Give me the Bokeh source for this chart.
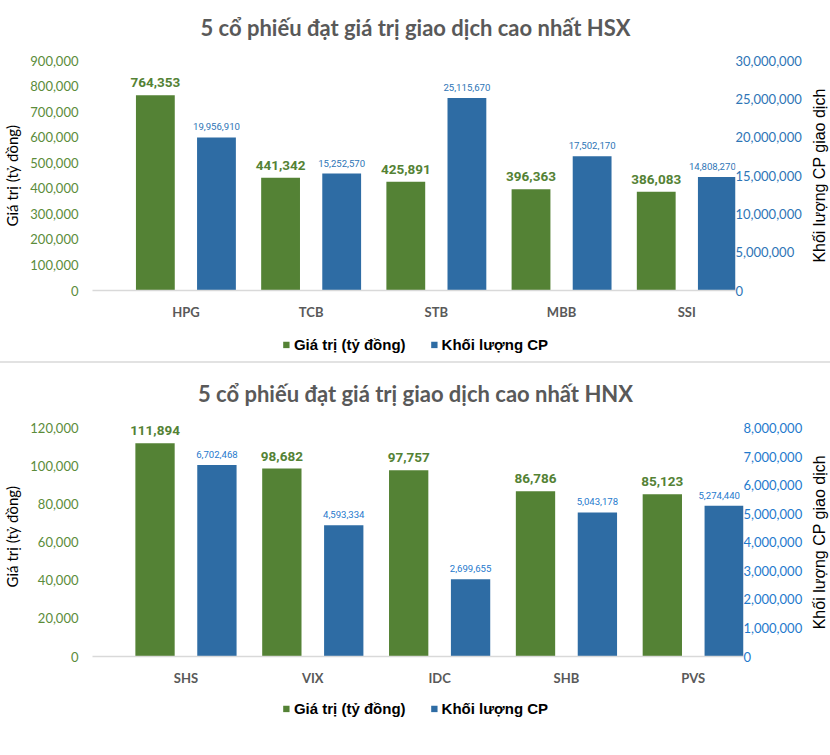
import math
from bokeh.plotting import figure
from bokeh.models import (Range1d, LinearAxis, FixedTicker, NumeralTickFormatter,
                          Legend, LegendItem, Div, Label)
from bokeh.layouts import column, row
from bokeh.embed import file_html
from bokeh.resources import INLINE
from bokeh.core.properties import value

# ---------------- data ----------------
hsx_title = "5 cổ phiếu đạt giá trị giao dịch cao nhất HSX"
hsx_stocks = ["HPG", "TCB", "STB", "MBB", "SSI"]
hsx_value = [764353, 441342, 425891, 396363, 386083]
hsx_volume = [19956910, 15252570, 25115670, 17502170, 14808270]
hsx_value_ticks = [0, 100000, 200000, 300000, 400000, 500000, 600000, 700000, 800000, 900000]
hsx_volume_ticks = [0, 5000000, 10000000, 15000000, 20000000, 25000000, 30000000]

hnx_title = "5 cổ phiếu đạt giá trị giao dịch cao nhất HNX"
hnx_stocks = ["SHS", "VIX", "IDC", "SHB", "PVS"]
hnx_value = [111894, 98682, 97757, 86786, 85123]
hnx_volume = [6702468, 4593334, 2699655, 5043178, 5274440]
hnx_value_ticks = [0, 20000, 40000, 60000, 80000, 100000, 120000]
hnx_volume_ticks = [0, 1000000, 2000000, 3000000, 4000000, 5000000, 6000000, 7000000, 8000000]

series_names = ["Giá trị (tỷ đồng)", "Khối lượng CP"]
left_axis_title = "Giá trị (tỷ đồng)"
right_axis_title = "Khối lượng CP giao dịch"

GREEN = "#548235"
GREEN_TXT = "#5B8C3A"
BLUE = "#2E6CA4"

PAGE_W = 830
RT_W = 22
CW = PAGE_W - RT_W


def bare_fig(width, height, **kw):
    f = figure(width=width, height=height, output_backend="svg", toolbar_location=None,
               x_range=Range1d(0, 1), y_range=Range1d(0, 1),
               x_axis_type=None, y_axis_type=None, **kw)
    f.outline_line_color = None
    return f


def make_title(text, height, ypos):
    tf = bare_fig(PAGE_W, height, min_border=0)
    tf.add_layout(Label(x=0.5, y=ypos, text=text, text_align="center",
                        text_baseline="middle", text_font="Lato",
                        text_font_style="bold", text_font_size="22px",
                        text_color="#595959"))
    return tf


def make_chart(stocks, vals, vols, vticks, volticks, head, height, top_b, bottom_b,
               right_b, xr, blue_txt):
    p = figure(width=CW, height=height, output_backend="svg", toolbar_location=None,
               x_range=Range1d(*xr), y_range=Range1d(0, vticks[-1] * head),
               min_border_left=88, min_border_right=right_b,
               min_border_top=top_b, min_border_bottom=bottom_b)
    p.extra_y_ranges = {"vol": Range1d(0, volticks[-1] * head)}
    p.xgrid.visible = False
    p.ygrid.visible = False
    p.outline_line_color = None
    p.background_fill_color = "white"
    p.border_fill_color = "white"

    idx = list(range(len(stocks)))
    xg = [i - 0.244 for i in idx]
    xb = [i + 0.244 for i in idx]
    # the last volume label is nudged left so it stays clear of the right axis
    blue_shift = [0] * (len(idx) - 1) + [-5]

    p.vbar(x=xg, top=vals, width=0.31, fill_color=GREEN, line_color=None)
    p.vbar(x=xb, top=vols, width=0.31, fill_color=BLUE, line_color=None,
           y_range_name="vol")

    p.text(x=xg, y=vals, text=[f"{v:,}" for v in vals], text_align="center",
           text_baseline="bottom", y_offset=-8,
           text_font=value("Roboto"), text_font_style="bold",
           text_font_size="13.5px", text_color=GREEN)
    p.text(x=xb, y=vols, text=[f"{v:,}" for v in vols], text_align="center",
           text_baseline="bottom", y_offset=-7, x_offset=blue_shift,
           y_range_name="vol", text_font=value("Roboto"),
           text_font_size="9.6px", text_color=blue_txt)

    xa = p.xaxis[0]
    xa.ticker = FixedTicker(ticks=idx)
    xa.major_label_overrides = {i: s for i, s in zip(idx, stocks)}
    xa.axis_line_color = "#D9D9D9"
    xa.axis_line_width = 1.5
    xa.major_tick_line_color = None
    xa.minor_tick_line_color = None
    xa.major_tick_out = 0
    xa.major_tick_in = 0
    xa.minor_tick_out = 0
    xa.major_label_text_font = "Lato"
    xa.major_label_text_font_style = "bold"
    xa.major_label_text_font_size = "13px"
    xa.major_label_text_color = "#595959"
    xa.major_label_standoff = 13

    ya = p.yaxis[0]
    ya.ticker = FixedTicker(ticks=vticks)
    ya.formatter = NumeralTickFormatter(format="0,0")
    ya.axis_line_color = None
    ya.major_tick_line_color = None
    ya.minor_tick_line_color = None
    ya.major_tick_out = 0
    ya.major_tick_in = 0
    ya.minor_tick_out = 0
    ya.major_label_text_font = "Lato"
    ya.major_label_text_font_size = "13px"
    ya.major_label_text_color = GREEN_TXT
    ya.major_label_standoff = 14
    ya.axis_label = left_axis_title
    ya.axis_label_text_font = "Lato"
    ya.axis_label_text_font_style = "normal"
    ya.axis_label_text_font_size = "15px"
    ya.axis_label_text_color = "#000000"
    ya.axis_label_standoff = 6

    ra = LinearAxis(y_range_name="vol", ticker=FixedTicker(ticks=volticks),
                    formatter=NumeralTickFormatter(format="0,0"))
    ra.axis_line_color = None
    ra.major_tick_line_color = None
    ra.minor_tick_line_color = None
    ra.major_tick_out = 0
    ra.major_tick_in = 0
    ra.minor_tick_out = 0
    ra.major_label_text_font = "Lato"
    ra.major_label_text_font_size = "13px"
    ra.major_label_text_color = blue_txt
    ra.major_label_standoff = 0
    p.add_layout(ra, "right")

    # right axis title, reading bottom to top, in a narrow companion figure
    rt = bare_fig(RT_W, height, min_border_left=0, min_border_right=0,
                  min_border_top=top_b, min_border_bottom=bottom_b)
    rt.add_layout(Label(x=0.5, y=0.5 / head, text=right_axis_title, angle=math.pi / 2,
                        text_align="center", text_baseline="middle",
                        text_font="Liberation Sans", text_font_size="16px",
                        text_color="#000000"))
    return row(p, rt)


def make_legend(height):
    lf = bare_fig(PAGE_W, height, min_border=0)
    # zero-height placeholder bars: they only supply the legend swatches
    rg = lf.vbar(x=[0.5], top=[0], width=0.01, fill_color=GREEN, line_color=None)
    rb = lf.vbar(x=[0.5], top=[0], width=0.01, fill_color=BLUE, line_color=None)
    legend = Legend(items=[LegendItem(label=series_names[0], renderers=[rg]),
                           LegendItem(label=series_names[1], renderers=[rb])],
                    orientation="horizontal", location="center",
                    glyph_width=8, glyph_height=8, label_standoff=4, spacing=24,
                    border_line_color=None, background_fill_alpha=0,
                    label_text_font="Liberation Sans", label_text_font_style="bold",
                    label_text_font_size="15px", label_text_color="#000000",
                    margin=0, padding=0)
    lf.add_layout(legend, "center")
    return lf


t1 = make_title(hsx_title, 48, 0.4375)
c1 = make_chart(hsx_stocks, hsx_value, hsx_volume, hsx_value_ticks, hsx_volume_ticks,
                1.0, 279, 12, 37, CW - 735, (-0.746, 4.389), "#2E75B6")
l1 = make_legend(34)
sep = Div(width=PAGE_W, height=2, margin=0, styles={"background-color": "#E2E2E2"})
t2 = make_title(hnx_title, 48, 0.375)
c2 = make_chart(hnx_stocks, hnx_value, hnx_volume, hnx_value_ticks, hnx_volume_ticks,
                1.05, 282, 5, 37, CW - 743, (-0.737, 4.396), "#1F7ACD")
l2 = make_legend(30)

layout = column(t1, c1, l1, sep, t2, c2, l2)
open("out.html", "w").write(file_html(layout, INLINE))
